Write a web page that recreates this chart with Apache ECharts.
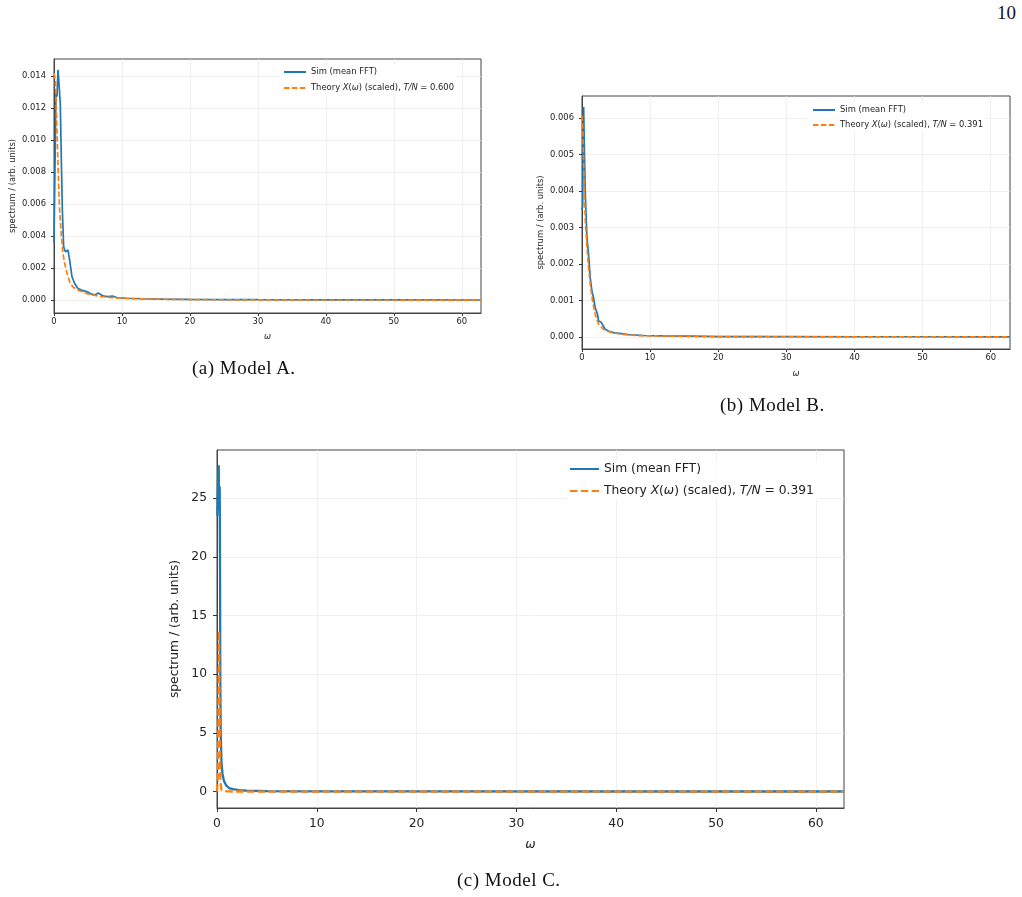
<!DOCTYPE html>
<html>
<head>
<meta charset="utf-8">
<script src="https://cdn.jsdelivr.net/npm/echarts@6/dist/echarts.min.js"></script>
<style>
  body { margin: 0; background: #fff; }
  .chart { position: absolute; left: 0; top: 0; width: 1022px; height: 897px; }
  .cap { position: absolute; font-family: "Liberation Serif", "DejaVu Serif", serif; font-size: 19px; letter-spacing: 0.5px; color: #111; white-space: nowrap; }
</style>
</head>
<body>
<div class="cap" style="left:997px; top:2px; letter-spacing:0;">10</div>
<div id="chartA" class="chart"></div>
<div id="chartB" class="chart"></div>
<div id="chartC" class="chart"></div>
<div class="cap" style="left:192px; top:357px;">(a) Model A.</div>
<div class="cap" style="left:720px; top:394px;">(b) Model B.</div>
<div class="cap" style="left:457px; top:869px;">(c) Model C.</div>
<script>
// ---- Model A ----
var omegaSimA = [0, 0.1, 0.29, 0.44, 0.59, 0.74, 0.93, 1.08, 1.23, 1.42, 1.67, 2.06, 2.3, 2.65, 3.04, 3.53, 4.02, 4.9, 5.5, 6.0, 6.5, 7.3, 8.0, 8.6, 9.3, 10.7, 13, 16, 20, 25, 30, 40, 50, 62.83];
var simA = [0.0036, 0.00365, 0.01292, 0.0127, 0.01437, 0.0135, 0.01219, 0.00875, 0.00563, 0.00333, 0.00302, 0.00313, 0.0025, 0.00146, 0.00104, 0.00073, 0.00063, 0.00052, 0.00038, 0.00033, 0.00045, 0.00025, 0.00022, 0.00026, 0.00015, 0.00012, 0.00009, 0.00007, 0.00005, 0.00004, 0.00003, 0.00002, 0.00002, 0.00001];
var omegaThA = [0, 0.2, 0.34, 0.49, 0.64, 0.83, 1.08, 1.32, 1.57, 1.91, 2.3, 2.79, 3.53, 4.5, 5.5, 7, 8.5, 10, 13, 17, 22, 30, 40, 50, 62.83];
var thA = [0.01417, 0.01375, 0.01188, 0.0098, 0.0077, 0.0056, 0.0040, 0.0029, 0.0023, 0.0017, 0.00115, 0.00083, 0.00063, 0.00045, 0.00034, 0.00022, 0.00016, 0.00012, 0.00008, 0.00005, 0.00003, 0.00002, 0.00001, 0.00001, 0.000005];
var yTicksA = [0, 0.002, 0.004, 0.006, 0.008, 0.010, 0.012, 0.014];

// ---- Model B ----
var omegaSimB = [0, 0.1, 0.24, 0.34, 0.49, 0.73, 0.97, 1.21, 1.46, 1.7, 1.94, 2.09, 2.28, 2.43, 2.82, 3.06, 3.4, 3.88, 4.61, 5.5, 7, 9, 12, 16, 20, 30, 40, 50, 62.83];
var simB = [0.0035, 0.00357, 0.0063, 0.00525, 0.00389, 0.00271, 0.00225, 0.00162, 0.00125, 0.00107, 0.0008, 0.00085, 0.00062, 0.00044, 0.0004, 0.00043, 0.00021, 0.00016, 0.00012, 0.0001, 0.00006, 0.00004, 0.00003, 0.00002, 0.00001, 0.00001, 0.000005, 0.000005, 0.000003];
var omegaThB = [0, 0.15, 0.29, 0.49, 0.73, 0.97, 1.21, 1.55, 1.94, 2.43, 3.16, 3.88, 4.61, 6, 8, 10, 14, 20, 30, 45, 62.83];
var thB = [0.00607, 0.00553, 0.00435, 0.00316, 0.00244, 0.00189, 0.00144, 0.00098, 0.00062, 0.00035, 0.00021, 0.00015, 0.00011, 0.00007, 0.00004, 0.00003, 0.00002, 0.00001, 0.000005, 0.000003, 0.000002];
var yTicksB = [0, 0.001, 0.002, 0.003, 0.004, 0.005, 0.006];

// ---- Model C ----
var omegaSimC = [0.03, 0.1, 0.17, 0.22, 0.27, 0.3, 0.33, 0.37, 0.45, 0.55, 0.7, 0.9, 1.2, 1.6, 2.2, 3, 5, 10, 20, 40, 62.83];
var simC = [23.5, 26.5, 27.8, 24, 26, 20, 10, 5, 2.5, 1.5, 0.9, 0.55, 0.3, 0.2, 0.12, 0.08, 0.04, 0.02, 0.01, 0.005, 0.005];
var omegaThC = [0, 0.1, 0.2, 0.25, 0.3, 0.35, 0.45, 0.6, 1, 2, 5, 20, 62.83];
var thC = [0, 1.5, 13.7, 8, 3, 0.8, 0.15, 0.03, 0.01, 0.005, 0.002, 0.001, 0];
var yTicksC = [0, 5, 10, 15, 20, 25];

var xTicks = [0, 10, 20, 30, 40, 50, 60];
var BLUE = '#1f77b4', ORANGE = '#ff7f0e';

function pairs(xs, ys) {
  return xs.map(function (x, i) { return [x, ys[i]]; });
}

function theoryLabel(name) {
  // italicise the math parts of the legend text
  return name.replace('X(ω)', '{i|X}({i|ω})').replace('T/N', '{i|T/N}');
}

function panel(p) {
  var fs = p.fs;
  var font = 'DejaVu Sans';
  var gridLine = { show: true, lineStyle: { color: '#ececec', width: 0.8 } };
  return {
    animation: false,
    grid: { left: p.grid[0], top: p.grid[1], width: p.grid[2], height: p.grid[3],
            show: true, borderColor: '#444', borderWidth: 1, backgroundColor: 'transparent' },
    legend: {
      orient: 'vertical', left: p.legend[0], top: p.legend[1],
      itemWidth: p.iw, itemHeight: 8, itemGap: p.gap, padding: 3,
      backgroundColor: 'rgba(255,255,255,0.85)',
      itemStyle: { color: 'transparent', borderColor: 'transparent', borderWidth: 0 },
      data: [p.simName, p.thName],
      formatter: theoryLabel,
      textStyle: { fontSize: fs, fontFamily: font, color: '#222',
                   rich: { i: { fontSize: fs, fontFamily: font, fontStyle: 'italic', color: '#222' } } }
    },
    xAxis: {
      type: 'value', min: 0, max: 62.83, interval: 10,
      name: 'ω', nameLocation: 'middle', nameGap: p.xGap,
      nameTextStyle: { fontSize: fs, fontFamily: font, fontStyle: 'italic', color: '#222' },
      axisLine: { show: true, onZero: false, lineStyle: { color: '#444' } },
      axisTick: { show: true, length: p.tick, lineStyle: { color: '#333' }, customValues: xTicks },
      axisLabel: { fontSize: fs, fontFamily: font, color: '#222', margin: p.xMargin, customValues: xTicks },
      splitLine: gridLine
    },
    yAxis: {
      type: 'value', min: p.y[0], max: p.y[1],
      name: 'spectrum / (arb. units)', nameLocation: 'middle', nameGap: p.yGap, nameRotate: 90,
      nameTextStyle: { fontSize: fs, fontFamily: font, color: '#222' },
      axisLine: { show: true, onZero: false, lineStyle: { color: '#444' } },
      axisTick: { show: true, length: p.tick, lineStyle: { color: '#333' }, customValues: p.yTicks },
      axisLabel: { fontSize: fs, fontFamily: font, color: '#222', margin: p.yMargin,
                   customValues: p.yTicks,
                   formatter: function (v) { return v.toFixed(p.dec); } },
      splitLine: gridLine
    },
    series: [
      { name: p.simName, type: 'line', data: p.sim, showSymbol: false, symbol: 'none',
        lineStyle: { color: BLUE, width: p.lw }, itemStyle: { color: BLUE } },
      { name: p.thName, type: 'line', data: p.th, showSymbol: false, symbol: 'none',
        lineStyle: { color: ORANGE, width: p.lw, type: p.dash }, itemStyle: { color: ORANGE } }
    ]
  };
}

var chartA = echarts.init(document.getElementById('chartA'));
chartA.setOption(panel({
  grid: [54, 59, 427, 254], y: [-0.0008, 0.01505], yTicks: yTicksA, dec: 3,
  fs: 8.4, lw: 1.7, dash: [5.5, 2.4], tick: 3, xMargin: 5, yMargin: 8, xGap: 20, yGap: 37,
  legend: [280, 65], iw: 22, gap: 8,
  simName: 'Sim (mean FFT)', thName: 'Theory X(ω) (scaled), T/N = 0.600',
  sim: pairs(omegaSimA, simA), th: pairs(omegaThA, thA)
}));

var chartB = echarts.init(document.getElementById('chartB'));
chartB.setOption(panel({
  grid: [582, 96, 428, 253], y: [-0.00033, 0.0066], yTicks: yTicksB, dec: 3,
  fs: 8.4, lw: 1.7, dash: [5.5, 2.4], tick: 3, xMargin: 5, yMargin: 8, xGap: 21, yGap: 37,
  legend: [809, 103], iw: 22, gap: 7,
  simName: 'Sim (mean FFT)', thName: 'Theory X(ω) (scaled), T/N = 0.391',
  sim: pairs(omegaSimB, simB), th: pairs(omegaThB, thB)
}));

var chartC = echarts.init(document.getElementById('chartC'));
chartC.setOption(panel({
  grid: [217, 450, 627, 358], y: [-1.4, 29.1], yTicks: yTicksC, dec: 0,
  fs: 12.3, lw: 2.3, dash: [7.5, 3.3], tick: 4, xMargin: 10, yMargin: 10, xGap: 31, yGap: 28,
  legend: [566, 460], iw: 29, gap: 10,
  simName: 'Sim (mean FFT)', thName: 'Theory X(ω) (scaled), T/N = 0.391',
  sim: pairs(omegaSimC, simC), th: pairs(omegaThC, thC)
}));
</script>
</body>
</html>
